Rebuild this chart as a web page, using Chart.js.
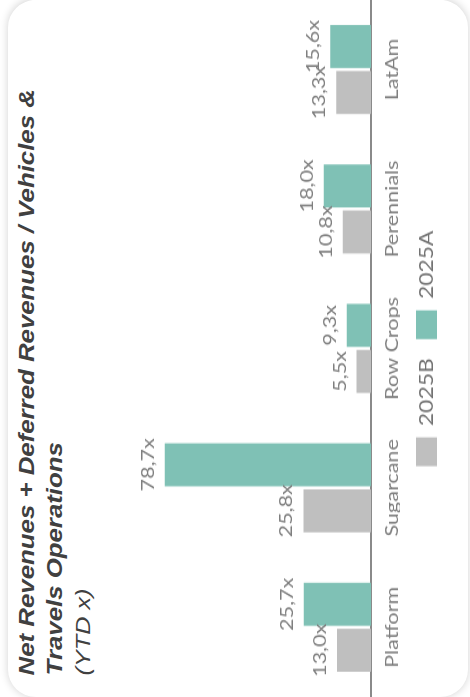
<!DOCTYPE html>
<html>
<head>
<meta charset="utf-8">
<script src="https://cdn.jsdelivr.net/npm/chart.js@4"></script>
<style>
  body { margin: 0; background: #fff; overflow: hidden; }
  /* the whole card is drawn upright, then turned on its side and stretched a bit */
  #wrap {
    position: absolute; left: 0; top: 0;
    width: 581px; height: 470px;
    transform-origin: 0 0;
    transform: translate(0px, 697px) rotate(-90deg) scaleX(1.2);
  }
  #card {
    position: absolute; left: 0; top: 8px;
    width: 581px; height: 460px;
    border-radius: 23px / 28px;
    box-shadow: 0 0 8px rgba(0,0,0,0.18);
    background: #fff;
  }
  #title {
    position: absolute; left: 18px; top: 13px;
    font-family: "Liberation Sans", Arial, sans-serif;
    font-size: 21.5px; line-height: 28px;
    color: #404040; white-space: nowrap;
  }
  #title b { font-style: italic; }
  #title i { font-size: 21px; }
  #myChart { position: absolute; left: 0; top: 0; }
</style>
</head>
<body>
<div id="wrap">
  <div id="card"></div>
  <div id="title"><b>Net Revenues + Deferred Revenues / Vehicles &amp;<br>Travels Operations</b><br><i>(YTD x)</i></div>
  <canvas id="myChart" width="581" height="470"></canvas>
</div>
<script>
const categories = ['Platform', 'Sugarcane', 'Row Crops', 'Perennials', 'LatAm']
const budget2025B = [13.0, 25.8, 5.5, 10.8, 13.3]
const actual2025A = [25.7, 78.7, 9.3, 18.0, 15.6]

const grey = '#7f7f7f'

// value labels above each bar, "25,7x" style
const barLabels = {
  id: 'barLabels',
  afterDatasetsDraw(chart) {
    const ctx = chart.ctx
    ctx.save()
    ctx.font = '18px Lato'
    ctx.fillStyle = grey
    ctx.textAlign = 'center'
    ctx.textBaseline = 'alphabetic'
    chart.data.datasets.forEach((ds, i) => {
      chart.getDatasetMeta(i).data.forEach((bar, j) => {
        const txt = ds.data[j].toFixed(1).replace('.', ',') + 'x'
        ctx.fillText(txt, bar.x, bar.y - 11)
      })
    })
    ctx.restore()
  }
}

const chart = new Chart(document.getElementById('myChart'), {
  type: 'bar',
  data: {
    labels: categories,
    datasets: [
      { label: '2025B', data: budget2025B, backgroundColor: '#bfbfbf' },
      { label: '2025A', data: actual2025A, backgroundColor: '#7fc1b5' }
    ]
  },
  options: {
    responsive: false,
    devicePixelRatio: 1,
    animation: false,
    categoryPercentage: 0.66,
    barPercentage: 0.935,
    layout: { padding: { top: 109, bottom: 23, left: 0, right: 0 } },
    plugins: {
      tooltip: { enabled: false },
      legend: {
        position: 'bottom',
        labels: {
          boxWidth: 24, boxHeight: 21, padding: 16,
          color: '#737373',
          font: { family: 'Lato', size: 19 }
        }
      }
    },
    scales: {
      x: {
        grid: { display: false, drawTicks: false },
        border: { display: true, color: '#8a8a8a', width: 2 },
        ticks: { color: grey, padding: 10, font: { family: 'Lato', size: 18 } },
        afterFit: s => { s.height = 29 }
      },
      y: { display: false, min: 0, max: 100 }
    }
  },
  plugins: [barLabels]
})
</script>
</body>
</html>
